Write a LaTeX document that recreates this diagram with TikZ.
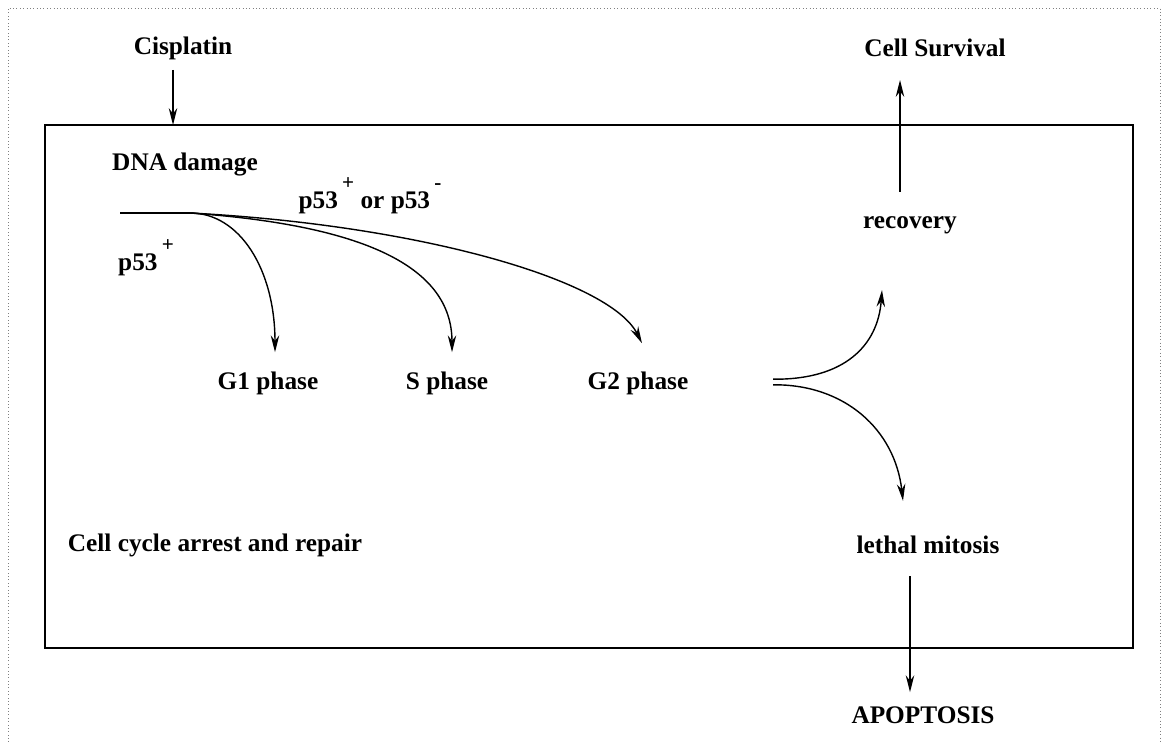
\documentclass[tikz,border=0pt]{standalone}
\usepackage{fontspec}
\setmainfont{Liberation Serif}
\usetikzlibrary{arrows.meta,positioning,calc}
\tikzstyle{txt} = [inner sep=0pt, font=\fontsize{18}{20}\selectfont\bfseries]
\tikzstyle{arrow} = [line width=1pt,-{Stealth[length=12pt,width=6pt]}]
\tikzstyle{cellbox} = [line width=1.2pt]
\newcommand{\upmark}[1]{\raisebox{0.72em}{\,\fontsize{15}{15}\selectfont #1}}
\begin{document}
\begin{tikzpicture}[x=0.025cm, y=-0.025cm]
\useasboundingbox (0,0) rectangle (1167,742);
\draw[gray, dotted] (8,742) -- (8,8) -- (1160,8) -- (1160,742);
\draw[cellbox] (45,125) rectangle (1133,648);
\node (Cis) [txt] at (183,48) {Cisplatin};
\node (Surv) [txt] at (935,48) {Cell Survival};
\node (DNA) [txt] at (185,165) {DNA damage};
\node (Pboth) [txt, anchor=base] at (370,208) {p53\upmark{+} or p53\upmark{-}};
\node (Pplus) [txt, anchor=base] at (146,270) {p53\upmark{+}};
\node (G1) [txt] at (268,383) {G1 phase};
\node (S) [txt] at (447,383) {S phase};
\node (G2) [txt] at (638,383) {G2 phase};
\node (Rec) [txt] at (910,225) {recovery};
\node (Leth) [txt] at (928,545) {lethal mitosis};
\node (Apo) [txt] at (923,715) {APOPTOSIS};
\node (Arr) [txt] at (215,545) {Cell cycle arrest and repair};
\coordinate (hit) at (173,125);
\coordinate (dmg) at (120,213);
\coordinate (br) at (190,213);
\coordinate (fork) at (773,382);
\draw[arrow] ($(Cis.south)+(-10,10)$) -- (hit);
\draw[line width=1pt] (dmg) -- (br);
\draw[arrow] (br) .. controls (240,213) and (275,270) .. ($(G1.north)+(7,-19)$);
\draw[arrow] (br) .. controls (360,225) and (452,265) .. ($(S.north)+(5,-19)$);
\draw[arrow] (br) .. controls (420,225) and (610,280) .. ($(G2.north)+(4,-28)$);
\draw[arrow] ([yshift=2pt]fork) .. controls (845,380) and (878,345) .. ($(Rec.south)+(-28,56)$);
\draw[arrow] ([yshift=-2pt]fork) .. controls (845,384) and (895,430) .. ($(Leth.north)+(-25,-35)$);
\draw[arrow] ($(Rec.north)+(-10,-24)$) -- ($(Rec.north)+(-10,-136)$);
\draw[arrow] ($(Leth.south)+(-18,22)$) -- ($(Apo.north)+(-13,-14)$);
\end{tikzpicture}
\end{document}
